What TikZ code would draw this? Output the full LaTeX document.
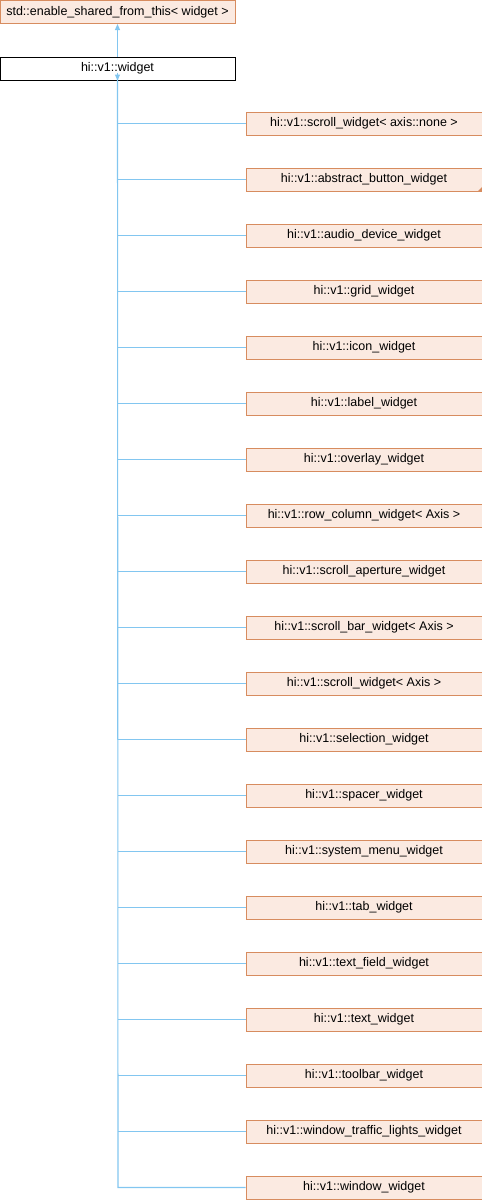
\documentclass[tikz,border=0pt]{standalone}
\usepackage{fontspec}
\setmainfont{Liberation Sans}
\usetikzlibrary{arrows.meta}
\definecolor{boxfill}{RGB}{251,234,225}
\definecolor{boxline}{RGB}{215,140,95}
\definecolor{edge}{RGB}{130,198,240}
\tikzset{
  cls/.style={draw=boxline, fill=boxfill, line width=1pt, minimum width=236pt, minimum height=23pt, inner sep=0pt, font=\fontsize{12.5}{14}\selectfont},
  plain/.style={draw=black, fill=white, line width=1pt, minimum width=235pt, minimum height=23pt, inner sep=0pt, font=\fontsize{12.5}{14}\selectfont},
  inh/.style={draw=edge, line width=1.1pt},
  inharrow/.style={inh, -{Triangle[width=5pt,length=6pt]}}
}
\begin{document}
\begin{tikzpicture}[x=1pt,y=-1pt]
\useasboundingbox (0,0) rectangle (482,1200);
\node[cls, minimum width=235pt] (base) at (117.5,12) {std::enable\_shared\_from\_this< widget >};
\node[plain] (w) at (117.5,68.5) {hi::v1::widget};
\draw[inharrow] (w.north) -- (base.south);
\node[cls] (c0) at (364,123.5) {hi::v1::scroll\_widget< axis::none >};
\node[cls] (c1) at (364,179.5) {hi::v1::abstract\_button\_widget};
\node[cls] (c2) at (364,235.5) {hi::v1::audio\_device\_widget};
\node[cls] (c3) at (364,291.5) {hi::v1::grid\_widget};
\node[cls] (c4) at (364,347.5) {hi::v1::icon\_widget};
\node[cls] (c5) at (364,403.5) {hi::v1::label\_widget};
\node[cls] (c6) at (364,459.5) {hi::v1::overlay\_widget};
\node[cls] (c7) at (364,515.5) {hi::v1::row\_column\_widget< Axis >};
\node[cls] (c8) at (364,571.5) {hi::v1::scroll\_aperture\_widget};
\node[cls] (c9) at (364,627.5) {hi::v1::scroll\_bar\_widget< Axis >};
\node[cls] (c10) at (364,683.5) {hi::v1::scroll\_widget< Axis >};
\node[cls] (c11) at (364,739.5) {hi::v1::selection\_widget};
\node[cls] (c12) at (364,795.5) {hi::v1::spacer\_widget};
\node[cls] (c13) at (364,851.5) {hi::v1::system\_menu\_widget};
\node[cls] (c14) at (364,907.5) {hi::v1::tab\_widget};
\node[cls] (c15) at (364,963.5) {hi::v1::text\_field\_widget};
\node[cls] (c16) at (364,1019.5) {hi::v1::text\_widget};
\node[cls] (c17) at (364,1075.5) {hi::v1::toolbar\_widget};
\node[cls] (c18) at (364,1131.5) {hi::v1::window\_traffic\_lights\_widget};
\node[cls] (c19) at (364,1187.5) {hi::v1::window\_widget};
% truncation marker
\fill[boxline] (c1.south east) -- ++(-5,0) -- ++(5,-5) -- cycle;
% trunk
\coordinate (bend) at (118,1187.5);
\draw[inh] (c19.west) -- (bend) -- ([yshift=6pt]w.south);
\draw[inharrow] ([yshift=8pt]w.south) -- (w.south);
\foreach \i in {0,...,18} {
  \draw[inh] (c\i.west) -- (c\i.west -| bend);
}
\end{tikzpicture}
\end{document}
